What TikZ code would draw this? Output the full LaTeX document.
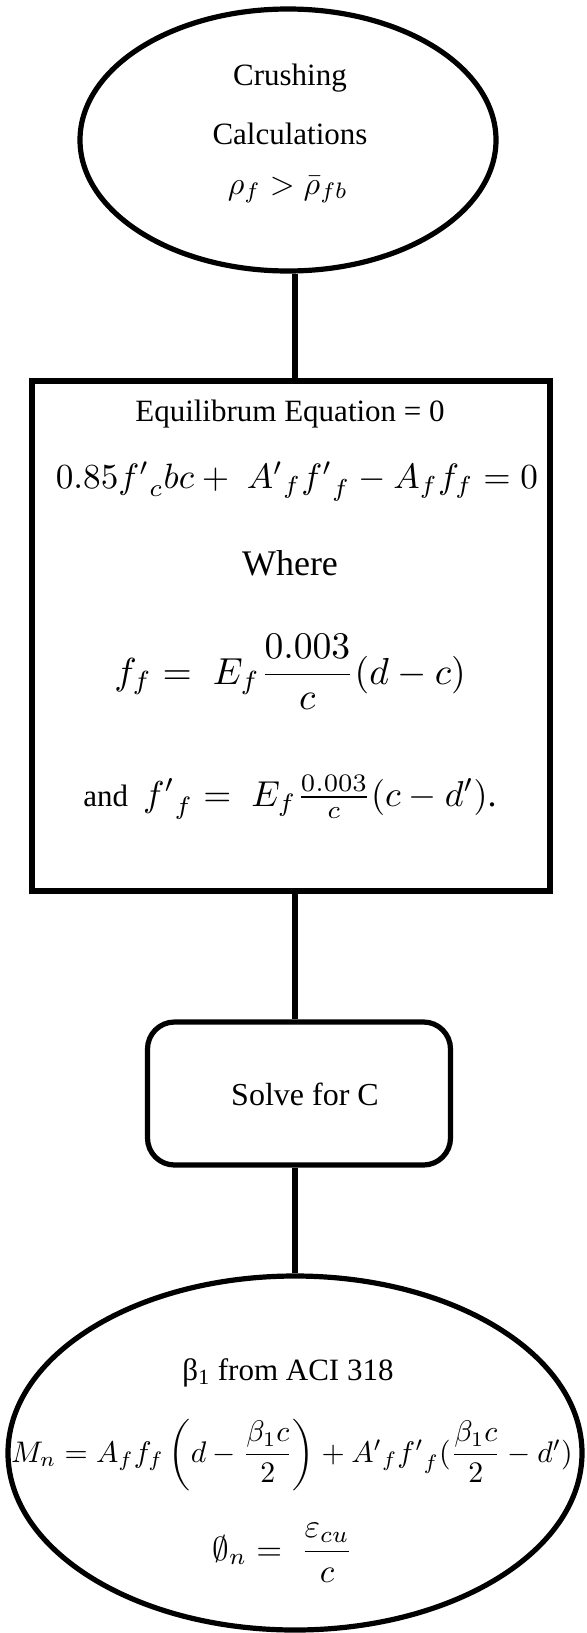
\documentclass[tikz,border=0pt]{standalone}
\usepackage{amsmath}
\usepackage{amssymb}
\usepackage{fontspec}
\setmainfont{Liberation Serif}
\usepackage{tikz}
\usetikzlibrary{shapes.geometric,positioning}
\tikzset{
  oval/.style={ellipse, draw, line width=2.6pt, inner sep=0pt},
  cadre/.style={rectangle, draw, line width=3pt, inner sep=0pt},
  arrondi/.style={rectangle, rounded corners=13.5pt, draw, line width=2.6pt, inner sep=0pt},
  lien/.style={line width=2.6pt},
  txt/.style={inner sep=0pt, anchor=base, font=\fontsize{15.5}{18}\selectfont},
  eqn/.style={inner sep=0pt, anchor=base, font=\fontsize{10}{12}\selectfont, scale=#1/10, transform shape},
}

\begin{document}
\begin{tikzpicture}[x=0.5pt, y=-0.5pt]
    \useasboundingbox (0,0) rectangle (587,1633);
    \coordinate (axe) at (295,0);
    % shapes
    \node[oval, minimum width=208pt, minimum height=131pt] (crush) at (288,140) {};
    \node[cadre, minimum width=259pt, minimum height=255pt] (equil) at (291,636) {};
    \node[arrondi, minimum width=151.5pt, minimum height=71.5pt] (solve) at (299,1093.5) {};
    \node[oval, minimum width=287pt, minimum height=177pt] (moment) at (295,1453) {};
    % texts
    \node[txt] (t1) at (290,85) {Crushing};
    \node[txt] (t2) at (290,144) {Calculations};
    \node[eqn=16] (t3) at (288,194) {$\rho_f > \bar{\rho}_{fb}$};
    \node[txt] (e1) at (290,421) {Equilibrum Equation = 0};
    \node[eqn=17.6] (e2) at (297,488) {$0.85{f'}_{c}bc + \;{A'}_{f}{f'}_{f} - A_f f_f = 0$};
    \node[txt, font=\fontsize{18}{20}\selectfont] (e3) at (290,575) {Where};
    \node[eqn=18.8] (e4) at (290,684) {$f_f = \;E_f\dfrac{0.003}{c}(d-c)$};
    \node[eqn=18] (e5) at (290,806) {{\fontsize{8.6}{10}\selectfont and} $\,{f'}_{f} = \;E_f\frac{0.003}{c}(c-d')$.};
    \node[txt, font=\fontsize{16}{18}\selectfont] (s1) at (305,1105) {Solve for C};
    \node[txt] (m1) at (288,1380) {β\textsubscript{1} from ACI 318};
    \node[eqn=14.9] (m2) at (292,1462) {$M_n = A_f f_f\left(d-\dfrac{\beta_1 c}{2}\right) + {A'}_{f}{f'}_{f}(\dfrac{\beta_1 c}{2}-d')$};
    \node[eqn=16.6] (m3) at (283,1560) {$\emptyset_n = \;\dfrac{\varepsilon_{cu}}{c}$};
    % connectors
    \draw[lien] (crush.south -| axe) -- (equil.north -| axe);
    \draw[lien] (equil.south -| axe) -- (solve.north -| axe);
    \draw[lien] (solve.south -| axe) -- (moment.north -| axe);
\end{tikzpicture}
\end{document}
